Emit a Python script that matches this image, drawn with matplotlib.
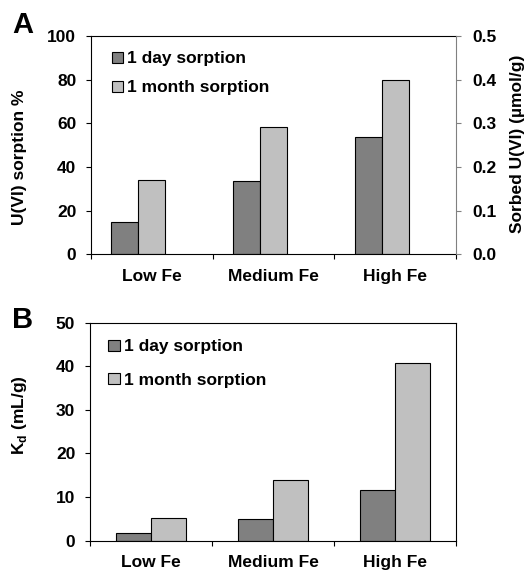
import numpy as np
import matplotlib
matplotlib.use('Agg')
import matplotlib.pyplot as plt

plt.rcParams['font.family'] = ['Liberation Sans', 'DejaVu Sans']
plt.rcParams['font.weight'] = 'bold'
plt.rcParams['mathtext.fontset'] = 'custom'
plt.rcParams['mathtext.rm'] = 'Liberation Sans'
plt.rcParams['mathtext.bf'] = 'Liberation Sans:bold'

categories = ['Low Fe', 'Medium Fe', 'High Fe']
series = ['1 day sorption', '1 month sorption']
sorption_pct = [[15, 33.6, 53.7], [34.2, 58.1, 80]]
kd = [[1.7, 5.05, 11.6], [5.2, 13.9, 40.7]]
colors = ['#808080', '#c0c0c0']

fs = 12.5
fig = plt.figure(figsize=(5.31, 5.70), dpi=100)
x = np.arange(len(categories))


def style_x(ax):
    ax.set_xlim(-0.5, 2.5)
    ax.set_xticks(np.arange(-0.5, 3, 1))
    ax.set_xticklabels([])
    ax.set_xticks(x, minor=True)
    ax.set_xticklabels(categories, minor=True, fontsize=fs, fontweight='bold')
    ax.tick_params(axis='x', which='major', direction='out', length=3.6, width=0.8)
    ax.tick_params(axis='x', which='minor', length=0, pad=10.5)
    ax.tick_params(axis='y', direction='out', length=3.6, width=0.8, labelsize=fs, pad=7)
    for s in ax.spines.values():
        s.set_linewidth(0.8)


# ---- panel A ----
axA = fig.add_axes([0.1714, 0.5539, 0.6874, 0.383])
w = 1 / 4.5
for k in range(2):
    axA.bar(x - w + k * w, sorption_pct[k], width=w, color=colors[k],
            edgecolor='black', linewidth=0.8, label=series[k])
axA.set_ylim(0, 100)
axA.set_yticks([0, 20, 40, 60, 80, 100])
style_x(axA)
axA.spines['right'].set_visible(False)
axA.set_ylabel('U(VI) sorption %', fontsize=fs, fontweight='bold')
axA.yaxis.set_label_coords(-0.175, 0.443)
axA.legend(loc='upper left', bbox_to_anchor=(0.057, 0.93), frameon=False,
           fontsize=fs, handlelength=0.65, handleheight=0.6, handletextpad=0.25,
           labelspacing=0.8, borderpad=0, borderaxespad=0)

axA2 = axA.twinx()
axA2.set_ylim(0, 0.5)
rticks = [0, 0.1, 0.2, 0.3, 0.4, 0.5]
axA2.set_yticks(rticks)
axA2.set_yticklabels([f'{v:.1f}' for v in rticks], fontsize=fs, fontweight='bold')
for s in ['left', 'top', 'bottom']:
    axA2.spines[s].set_visible(False)
axA2.spines['right'].set_color('#808080')
axA2.spines['right'].set_linewidth(0.8)
axA2.tick_params(axis='y', direction='out', length=3.6, width=0.8, color='#808080', pad=8)
axA2.set_ylabel('Sorbed U(VI) (µmol/g)', fontsize=fs, fontweight='bold')
axA2.yaxis.set_label_coords(1.148, 0.505)

# ---- panel B ----
axB = fig.add_axes([0.1695, 0.0514, 0.6893, 0.3825])
w = 1 / 3.5
for k in range(2):
    axB.bar(x - w / 2 + k * w, kd[k], width=w, color=colors[k],
            edgecolor='black', linewidth=0.8, label=series[k])
axB.set_ylim(0, 50)
axB.set_yticks([0, 10, 20, 30, 40, 50])
style_x(axB)
axB.set_ylabel(r'K$_\mathrm{d}$ (mL/g)', fontsize=fs, fontweight='bold')
axB.yaxis.set_label_coords(-0.166, 0.574)
axB.legend(loc='upper left', bbox_to_anchor=(0.05, 0.923), frameon=False,
           fontsize=fs, handlelength=0.65, handleheight=0.6, handletextpad=0.25,
           labelspacing=1.05, borderpad=0, borderaxespad=0)

fig.text(0.042, 0.957, 'A', fontsize=21, fontweight='bold', ha='center', va='center')
fig.text(0.043, 0.439, 'B', fontsize=21, fontweight='bold', ha='center', va='center')

fig.savefig('out.png', dpi=100)
